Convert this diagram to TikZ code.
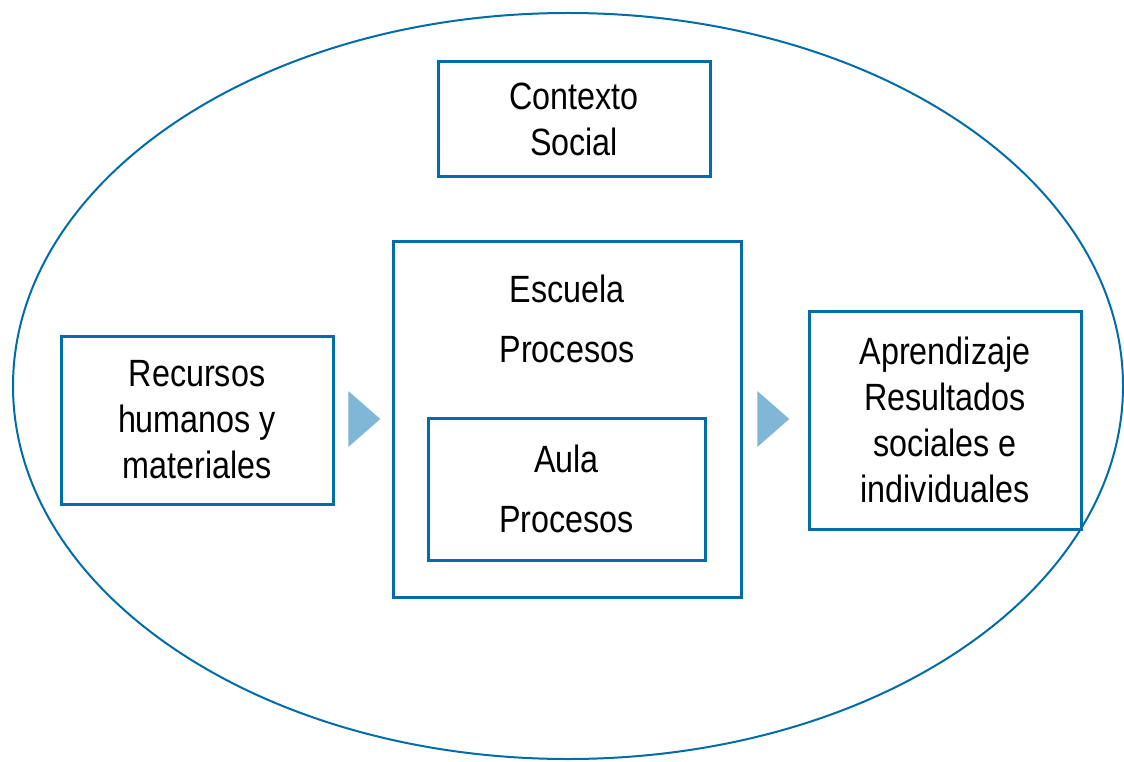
\documentclass[tikz,border=0pt]{standalone}
\usepackage{fontspec}
\setmainfont[FakeStretch=0.85]{Liberation Sans}
\usetikzlibrary{shapes.geometric}
\definecolor{FrameBlue}{RGB}{0,108,170}
\definecolor{ArrowBlue}{RGB}{128,182,214}

\begin{document}
\begin{tikzpicture}[x=1pt, y=-1pt,
    every node/.style={font=\fontsize{38}{46}\selectfont, align=center},
    box/.style={draw=FrameBlue, line width=3pt, inner sep=0pt},
    pointer/.style={isosceles triangle, fill=ArrowBlue, inner sep=0pt,
      minimum height=32pt, minimum width=56pt, isosceles triangle stretches}]
  \useasboundingbox (0,0) rectangle (1124,762);
  \draw [FrameBlue, line width=2pt] (568,386) ellipse [x radius=555, y radius=373];
  % boxes
  \node[box, minimum width=272pt, minimum height=115pt] (context) at (574,119.5) {Contexto\\Social};
  \node[box, minimum width=272pt, minimum height=168pt] (resources) at (197,420) {Recursos\\humanos y\\materiales};
  \node[box, minimum width=348pt, minimum height=356pt] (school) at (567,419) {};
  \node (schooltext) at (567,319) {Escuela\\[14pt]Procesos};
  \node[box, minimum width=277pt, minimum height=142pt] (classroom) at (566.5,489) {Aula\\[14pt]Procesos};
  \node[box, minimum width=272pt, minimum height=218pt] (results) at (945,420) {Aprendizaje\\Resultados\\sociales e\\individuales};
  % pointers
  \node[pointer] (leftpointer) at (361,419) {};
  \node[pointer] (rightpointer) at (770,419) {};
\end{tikzpicture}
\end{document}
